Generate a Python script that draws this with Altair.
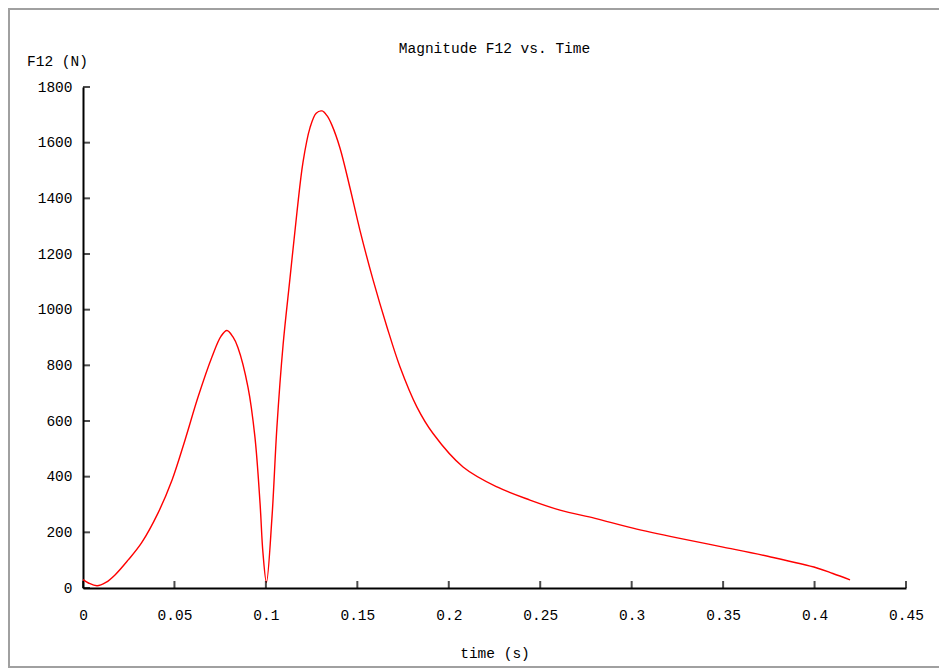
import altair as alt
import pandas as pd

# Curve values
time_s = [0.0, 0.003, 0.0077, 0.0125, 0.0175, 0.0246, 0.032, 0.041, 0.0487, 0.0558,
          0.0629, 0.0705, 0.0755, 0.0787, 0.082, 0.0847, 0.0902, 0.094, 0.0968, 0.0984,
          0.1003, 0.1033, 0.106, 0.1094, 0.1132, 0.117, 0.1203, 0.1241, 0.1275, 0.1307,
          0.1335, 0.1361, 0.1405, 0.146, 0.1514, 0.1586, 0.1662, 0.1733, 0.1826, 0.1914,
          0.2078, 0.2264, 0.2444, 0.2608, 0.28, 0.3007, 0.325, 0.35, 0.375, 0.4013,
          0.41, 0.4194]
force_n = [30, 18, 8, 20, 47, 100, 162, 269, 388, 532,
           686, 830, 905, 925, 902, 864, 722, 543, 305, 126,
           20, 251, 575, 873, 1114, 1351, 1530, 1653, 1706, 1714,
           1696, 1663, 1581, 1437, 1286, 1107, 938, 795, 650, 555,
           435, 363, 316, 280, 250, 215, 180, 147, 113, 72,
           52, 29]

x_ticks = [0, 0.05, 0.1, 0.15, 0.2, 0.25, 0.3, 0.35, 0.4, 0.45]
y_ticks = [0, 200, 400, 600, 800, 1000, 1200, 1400, 1600, 1800]

FONT = "Liberation Mono"
FS = 14.5

curve = pd.DataFrame({"t": time_s, "F": force_n})
xt = pd.DataFrame({"t": x_ticks})
yt = pd.DataFrame({"F": y_ticks})

xscale = alt.Scale(domain=[0, 0.45], nice=False, zero=False)
yscale = alt.Scale(domain=[0, 1800], nice=False, zero=False)

x_axis = alt.Axis(values=x_ticks, format="~g", ticks=False, tickSize=0, grid=False,
                  domainColor="black", domainWidth=2, labelFont=FONT, labelFontSize=FS,
                  labelColor="black", labelPadding=27, labelBaseline="middle",
                  labelFlush=False, title="time (s)", titleFont=FONT, titleFontSize=FS,
                  titleFontWeight="normal", titleColor="black", titleX=411.5, titleY=65,
                  titleBaseline="middle", titleAlign="center")
y_axis = alt.Axis(values=y_ticks, format="d", ticks=False, tickSize=0, grid=False,
                  domainColor="black", domainWidth=2, labelFont=FONT, labelFontSize=FS,
                  labelColor="black", labelPadding=11, labelFlush=False,
                  title="F12 (N)", titleFont=FONT, titleFontSize=FS, titleFontWeight="normal",
                  titleColor="black", titleAngle=0, titleX=-26, titleY=-26,
                  titleAlign="center", titleBaseline="middle")

line = alt.Chart(curve).mark_line(color="#ff0000", strokeWidth=1.4,
                                  interpolate="catmull-rom").encode(
    x=alt.X("t:Q", scale=xscale, axis=x_axis),
    y=alt.Y("F:Q", scale=yscale, axis=y_axis),
)

xtick_marks = alt.Chart(xt).mark_tick(orient="vertical", size=7, thickness=2, color="black",
                                      yOffset=-3.5).encode(
    x=alt.X("t:Q", scale=xscale),
    y=alt.datum(0, scale=yscale),
)
ytick_marks = alt.Chart(yt).mark_tick(orient="horizontal", size=7, thickness=2, color="black",
                                      xOffset=3.5).encode(
    y=alt.Y("F:Q", scale=yscale),
    x=alt.datum(0, scale=xscale),
)

frame = alt.Chart(pd.DataFrame({"k": [0]})).mark_rect(
    filled=False, stroke="#a0a0a0", strokeWidth=2, clip=False).encode(
    x=alt.value(-74), x2=alt.value(900), y=alt.value(-78), y2=alt.value(580)
)

chart = alt.layer(frame, line, xtick_marks, ytick_marks).properties(
    width=823, height=501,
    title=alt.TitleParams("Magnitude F12 vs. Time", anchor="middle", font=FONT, fontSize=FS,
                          fontWeight="normal", color="black", baseline="middle",
                          frame="group", offset=0, dy=55),
    autosize=alt.AutoSizeParams(type="none"),
    padding={"left": 83, "top": 87, "right": 33, "bottom": 82},
    background="white",
).configure_view(stroke=None)

chart.save("out.html", embed_options={"renderer": "svg", "actions": False})
